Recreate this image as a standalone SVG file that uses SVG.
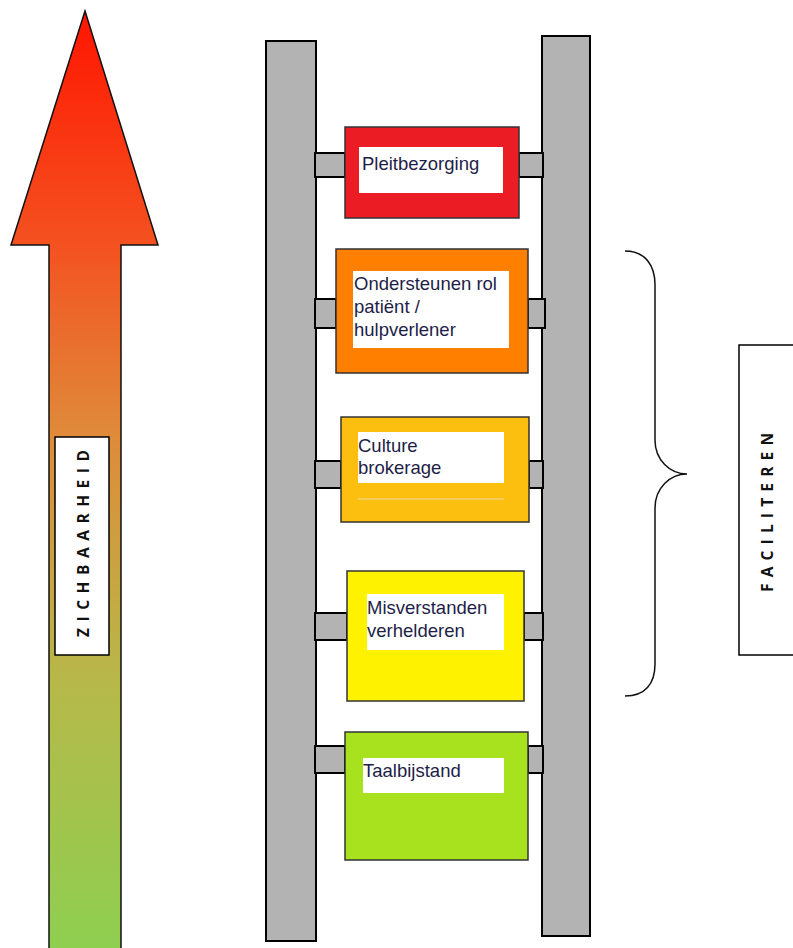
<svg xmlns="http://www.w3.org/2000/svg" width="793" height="948" viewBox="0 0 793 948">
  <defs>
    <linearGradient id="arrowGrad" gradientUnits="userSpaceOnUse" x1="0" y1="11" x2="0" y2="948">
      <stop offset="0" stop-color="#ff1500"/>
      <stop offset="0.25" stop-color="#f45220"/>
      <stop offset="0.45" stop-color="#df8a3a"/>
      <stop offset="0.72" stop-color="#b6b94a"/>
      <stop offset="1" stop-color="#8ecf50"/>
    </linearGradient>
  </defs>
  <style>
    .rail { fill: #b3b3b3; stroke: #000; stroke-width: 2; }
    .rung { fill: #b3b3b3; stroke: #000; stroke-width: 2; }
    .box { stroke: #333; stroke-width: 1.5; }
    .inner { fill: #fff; }
    .lbl { font-family: "Liberation Sans", Arial, sans-serif; font-size: 18.5px; fill: #1e1e48; }
    .vlbl { font-family: "Open Sans", "DejaVu Sans", sans-serif; font-weight: bold; font-size: 15.5px; fill: #111; }
    .frame { fill: #fff; stroke: #000; stroke-width: 1.5; }
  </style>
  <rect width="793" height="948" fill="#fff"/>

  <g id="arrow">
    <path d="M85,11 L158,245 L121,245 L121,952 L49,952 L49,245 L11,245 Z" fill="url(#arrowGrad)" stroke="#111" stroke-width="1.5"/>
    <rect class="frame" x="55" y="437" width="54" height="218"/>
    <text class="vlbl" transform="translate(88.5,637) rotate(-90)" textLength="187" lengthAdjust="spacing">ZICHBAARHEID</text>
  </g>

  <g id="rails">
    <rect class="rail" x="266" y="41" width="50" height="900"/>
    <rect class="rail" x="542" y="36" width="48" height="900"/>
  </g>

  <g id="connectors">
    <rect class="rung" x="315" y="153" width="30" height="24"/>
    <rect class="rung" x="519" y="153" width="24" height="24"/>
    <rect class="rung" x="315" y="299" width="21" height="29"/>
    <rect class="rung" x="528" y="299" width="17" height="29"/>
    <rect class="rung" x="315" y="461" width="26" height="27"/>
    <rect class="rung" x="529" y="461" width="14" height="27"/>
    <rect class="rung" x="315" y="613" width="32" height="27"/>
    <rect class="rung" x="524" y="613" width="19" height="27"/>
    <rect class="rung" x="315" y="746" width="30" height="27"/>
    <rect class="rung" x="528" y="746" width="15" height="27"/>
  </g>

  <g id="pleitbezorging">
    <rect class="box" x="345" y="127" width="174" height="91" fill="#ec1c24"/>
    <rect class="inner" x="359" y="147" width="144" height="46"/>
    <text class="lbl" x="362" y="170">Pleitbezorging</text>
  </g>

  <g id="ondersteunen">
    <rect class="box" x="336" y="249" width="192" height="124" fill="#ff7f00"/>
    <rect class="inner" x="353" y="271" width="156" height="77"/>
    <text class="lbl" x="354" y="290">Ondersteunen rol</text>
    <text class="lbl" x="354" y="313">patiënt /</text>
    <text class="lbl" x="354" y="336">hulpverlener</text>
  </g>

  <g id="culture">
    <rect class="box" x="341" y="417" width="188" height="105" fill="#fcbf10"/>
    <rect class="inner" x="358" y="432" width="146" height="51"/>
    <line x1="358" y1="499" x2="504" y2="499" stroke="#e8d9a0" stroke-width="1"/>
    <text class="lbl" x="358" y="452">Culture</text>
    <text class="lbl" x="358" y="474">brokerage</text>
  </g>

  <g id="misverstanden">
    <rect class="box" x="347" y="571" width="177" height="130" fill="#fff200"/>
    <rect class="inner" x="367" y="594" width="137" height="56"/>
    <text class="lbl" x="367" y="614">Misverstanden</text>
    <text class="lbl" x="367" y="637">verhelderen</text>
  </g>

  <g id="taalbijstand">
    <rect class="box" x="345" y="732" width="183" height="128" fill="#a8e21e"/>
    <rect class="inner" x="363" y="758" width="141" height="35"/>
    <text class="lbl" x="363" y="777">Taalbijstand</text>
  </g>

  <g id="faciliteren">
    <path d="M625,251 C645,251 655,265 655,285 L655,440 C655,460 670,474 687,474 C670,474 655,488 655,508 L655,664 C655,684 645,696 625,696" fill="none" stroke="#111" stroke-width="1.5"/>
    <rect class="frame" x="739" y="345" width="60" height="310"/>
    <text class="vlbl" transform="translate(772.5,592) rotate(-90)" textLength="159" lengthAdjust="spacing">FACILITEREN</text>
  </g>
</svg>
